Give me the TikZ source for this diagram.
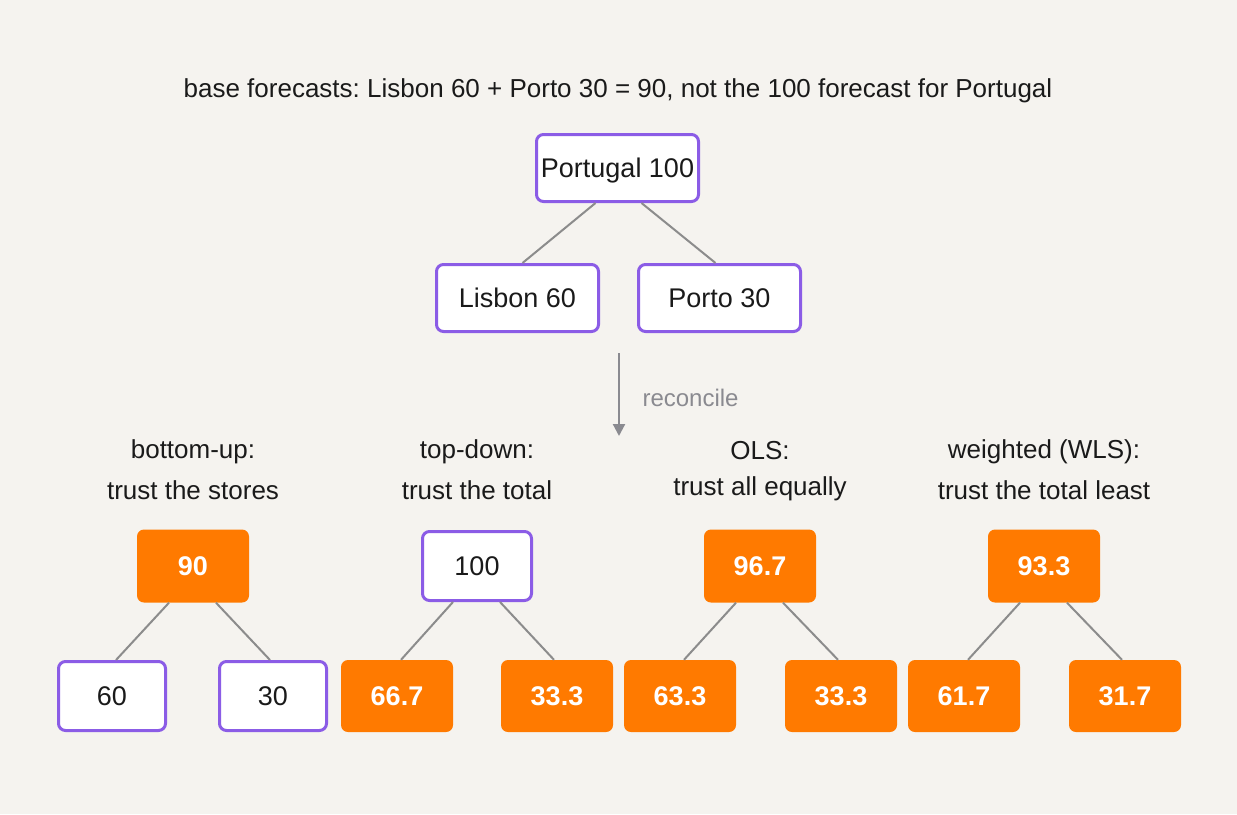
\documentclass[tikz,border=0pt]{standalone}
\usepackage{fontspec}
\setmainfont{Liberation Sans}
\usetikzlibrary{arrows.meta}
\frenchspacing
\definecolor{bg}{HTML}{F5F3EF}
\definecolor{purp}{HTML}{8B5CE6}
\definecolor{org}{HTML}{FF7A00}
\definecolor{edge}{HTML}{8C8C8C}
\definecolor{ink}{HTML}{1A1A1A}
\definecolor{soft}{HTML}{8A8A90}
\tikzset{
  base/.style={rectangle, rounded corners=7pt, inner sep=0pt, text height=19.3pt, text depth=0pt, font=\fontsize{27}{31}\selectfont},
  wbox/.style={base, draw=purp, line width=3pt, fill=white, text=ink},
  obox/.style={base, fill=org, text=white, font=\fontsize{27}{31}\selectfont\bfseries},
  big/.style={minimum width=162pt, minimum height=67pt},
  top/.style={minimum width=109pt, minimum height=69pt},
  otop/.style={minimum width=112pt, minimum height=73pt},
  leaf/.style={minimum width=107pt, minimum height=69pt},
  oleaf/.style={minimum width=112pt, minimum height=72pt},
  conn/.style={draw=edge, line width=2pt},
  lbl/.style={align=center, text=ink, font=\fontsize{26}{41}\selectfont},
}
\begin{document}
\begin{tikzpicture}[x=1pt,y=-1pt]
\fill[bg] (0,0) rectangle (1237,814);
\useasboundingbox (0,0) rectangle (1237,814);

\node[text=ink, font=\fontsize{26}{30}\selectfont] (title) at (618,91) {base forecasts: Lisbon 60 + Porto 30 = 90, not the 100 forecast for Portugal};

\node[wbox, big] (pt) at (617.5,168) {Portugal 100};
\node[wbox, big] (li) at (517.5,298) {Lisbon 60};
\node[wbox, big] (po) at (719.5,298) {Porto 30};
\draw[conn] ([xshift=-22pt]pt.south) -- ([xshift=5pt]li.north);
\draw[conn] ([xshift=24pt]pt.south) -- ([xshift=-4pt]po.north);

\coordinate (rs) at (619,353);
\coordinate (re) at (619,436);
\draw[draw=soft, line width=2.2pt, -{Triangle[length=12pt,width=12pt]}] (rs) -- (re);
\node[text=soft, anchor=west, font=\fontsize{24}{28}\selectfont] (rc) at (639,398) {reconcile};

% labels
\node[lbl] (l1) at (193,470) {bottom-up:\\trust the stores};
\node[lbl] (l2) at (477,470) {top-down:\\trust the total};
\node[lbl, font=\fontsize{26}{36}\selectfont] (l3) at (760,471) {OLS:\\trust all equally};
\node[lbl] (l4) at (1044,470) {weighted (WLS):\\trust the total least};

% group 1
\node[obox, otop] (a0) at (193,566) {90};
\node[wbox, leaf] (a1) at (112,696) {60};
\node[wbox, leaf] (a2) at (273,696) {30};
% group 2
\node[wbox, top] (b0) at (477,566) {100};
\node[obox, oleaf] (b1) at (397,696) {66.7};
\node[obox, oleaf] (b2) at (557,696) {33.3};
% group 3
\node[obox, otop] (c0) at (760,566) {96.7};
\node[obox, oleaf] (c1) at (680,696) {63.3};
\node[obox, oleaf] (c2) at (841,696) {33.3};
% group 4
\node[obox, otop] (d0) at (1044,566) {93.3};
\node[obox, oleaf] (d1) at (964,696) {61.7};
\node[obox, oleaf] (d2) at (1125,696) {31.7};

\foreach \p in {a,b,c,d}{
  \draw[conn] ([xshift=-24pt]\p0.south) -- ([xshift=4pt]\p1.north);
  \draw[conn] ([xshift=23pt]\p0.south) -- ([xshift=-3pt]\p2.north);
}
\end{tikzpicture}
\end{document}
